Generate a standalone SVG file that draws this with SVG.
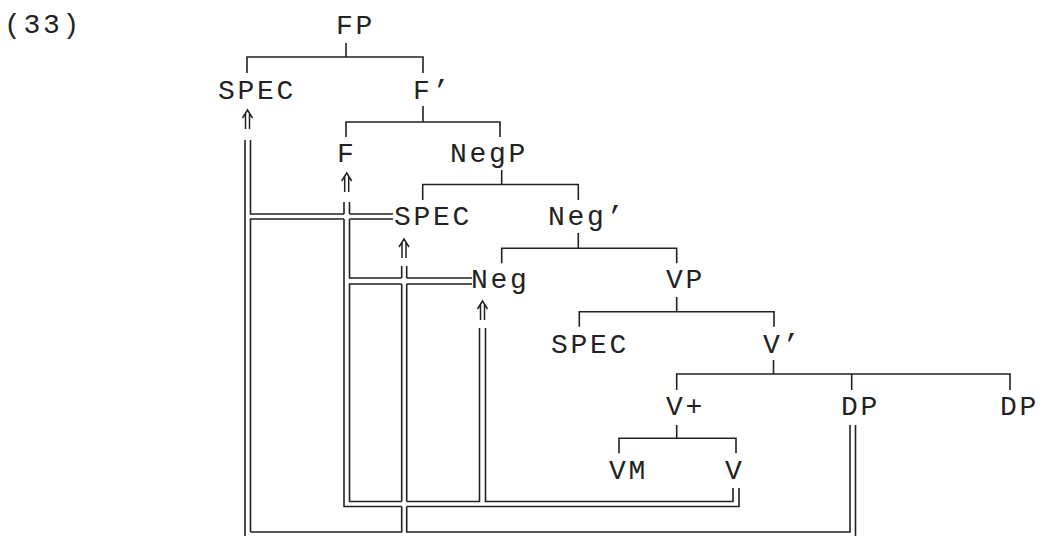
<svg xmlns="http://www.w3.org/2000/svg" width="1041" height="536" viewBox="0 0 1041 536">
<style>
.t{font-family:"Liberation Mono","DejaVu Sans Mono",monospace;font-size:28px;letter-spacing:2.7px;fill:#222}
.l{stroke:#222;stroke-width:1.6;fill:none}
.a{stroke:#222;stroke-width:1.5;fill:none}
</style>
<defs>
<path id="up" d="M-5,8 L0,0 L5,8 M-2,3.5 V19 M2,3.5 V19"/>
</defs>
<rect width="1041" height="536" fill="#fff"/>
<g id="connectors">
<g id="tree" class="l">
<path d="M346,43 V57 M247,73 V57 H423 V73"/>
<path d="M423,106 V122 M346,137 V122 H500 V137"/>
<path d="M501.7,170 V184.5 M422.7,200 V184.5 H578.3 V200"/>
<path d="M578.3,233 V248.3 M501.7,263.3 V248.3 H676.7 V263.3"/>
<path d="M676.7,297 V311.7 M579.3,326.7 V311.7 H774 V326.7"/>
<path d="M773.5,360 V374 M676.7,390 V374 H1010 V390 M851.7,374 V390"/>
<path d="M676.7,425 V438.3 M619,453.3 V438.3 H736 V453.3"/>
</g>
<g id="arrows" class="a">
<use href="#up" x="247.5" y="110"/>
<use href="#up" x="346.7" y="173"/>
<use href="#up" x="404" y="239"/>
<use href="#up" x="482.5" y="301"/>
</g>
<g id="movement" class="l">
<path d="M245,140 V540 H855.5 V425"/>
<path d="M250.5,140 V214 H344 M349.5,214 H393"/>
<path d="M250.5,532 V219 H344 M349.5,219 H393"/>
<path d="M344,202 V214 M349.5,202 V214"/>
<path d="M349.5,219 V278 H401.7 M406.7,278 H472"/>
<path d="M472,284 H406.7 M401.7,284 H349.5 V501.5 H401.7 M406.7,501.5 H479.5 V328"/>
<path d="M344,219 V506.5 H401.7 M406.7,506.5 H739 V488"/>
<path d="M485.5,328 V501.5 H733 V488"/>
<path d="M401.7,266 V278 M406.7,266 V278 M401.7,284 V501.5 M406.7,284 V501.5"/>
<path d="M250.5,532 H401.7 V506.5 M406.7,506.5 V532 H850 V425"/>
</g>
</g>
<g id="n-33"><text class="t" x="4" y="33">(33)</text></g>
<g id="n-FP"><text class="t" x="336" y="34">FP</text></g>
<g id="n-SPEC1"><text class="t" x="218" y="99">SPEC</text></g>
<g id="n-Fbar"><text class="t" x="413" y="99">F’</text></g>
<g id="n-F"><text class="t" x="337" y="162">F</text></g>
<g id="n-NegP"><text class="t" x="450" y="162">NegP</text></g>
<g id="n-SPEC2"><text class="t" x="394" y="225">SPEC</text></g>
<g id="n-Negbar"><text class="t" x="548" y="225">Neg’</text></g>
<g id="n-Neg"><text class="t" x="471" y="288">Neg</text></g>
<g id="n-VP"><text class="t" x="666" y="288">VP</text></g>
<g id="n-SPEC3"><text class="t" x="551" y="352.5">SPEC</text></g>
<g id="n-Vbar"><text class="t" x="763" y="352.5">V’</text></g>
<g id="n-Vplus"><text class="t" x="666" y="415">V+</text></g>
<g id="n-DP1"><text class="t" x="841" y="415">DP</text></g>
<g id="n-DP2"><text class="t" x="1000" y="415">DP</text></g>
<g id="n-VM"><text class="t" x="609" y="479">VM</text></g>
<g id="n-V"><text class="t" x="725" y="479">V</text></g>
</svg>
